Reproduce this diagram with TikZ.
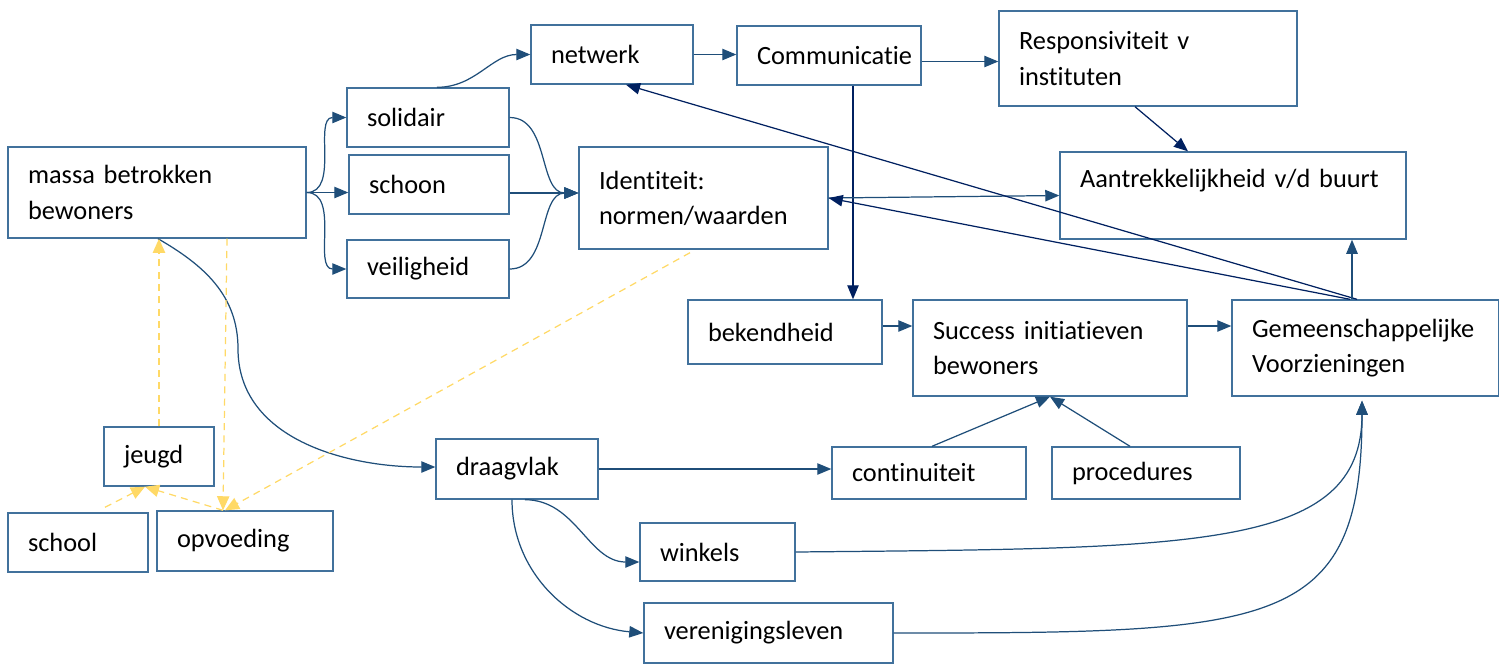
\documentclass[tikz,border=0pt]{standalone}
\usepackage{fontspec}
\setmainfont{Carlito}[Ligatures=NoCommon]
\usepackage{tikz}
\usetikzlibrary{arrows.meta,calc}
\definecolor{boxblue}{RGB}{65,113,156}
\definecolor{lineblue}{RGB}{31,78,121}
\definecolor{darknavy}{RGB}{0,32,96}
\definecolor{softyellow}{RGB}{255,217,102}
\tikzstyle{box}=[rectangle,draw=boxblue,line width=0.8pt,inner xsep=0.4cm,align=left,font=\fontsize{15}{20}\selectfont]
\tikzstyle{edge} = [draw,line width=0.7pt,lineblue,-{Triangle[length=8pt,width=6.5pt]}]
\tikzstyle{navyedge} = [edge,darknavy]
\tikzstyle{yedge} = [draw,line width=0.7pt,softyellow,dash pattern=on 4pt off 3pt,-{Triangle[length=8pt,width=7pt]}]

\begin{document}
\begin{tikzpicture}[x=0.02cm,y=0.02cm]
    \useasboundingbox (0,0) rectangle (1499,-664);
    % First we draw the boxes
    \foreach \pos/\name/\boxw/\boxh/\textw/\txt in {{(157,-192.5)/massa/5.96/1.82/5.16/{massa betrokken\\ bewoners}},
    {(428,-117.5)/solidair/3.24/1.18/2.44/solidair}, {(429,-184.5)/schoon/3.2/1.18/2.4/schoon},
    {(428,-269)/veilig/3.24/1.16/2.44/veiligheid},
    {(612,-54.5)/netwerk/3.24/1.18/2.44/netwerk}, {(829,-55.5)/comm/3.68/1.18/2.88/Communicatie},
    {(1148,-58.5)/resp/5.96/1.9/5.16/{Responsiviteit v\\ instituten}},
    {(703.5,-198)/ident/4.98/2.04/4.18/{Identiteit:\\ normen/waarden}},
    {(1233,-195.5)/aantr/6.92/1.74/6.12/{Aantrekkelijkheid v/d buurt\\ ~}},
    {(785,-332)/bekend/3.88/1.28/3.08/bekendheid}, {(1050,-348)/succes/5.48/1.92/4.68/{Success initiatieven\\ bewoners}},
    {(1365.5,-348)/gemeen/5.34/1.92/4.54/{Gemeenschappelijke\\ Voorzieningen}},
    {(159,-456.5)/jeugd/2.2/1.18/1.4/jeugd}, {(78,-542.5)/school/2.8/1.18/2.0/school},
    {(245,-541)/opvoed/3.52/1.2/2.72/opvoeding},
    {(517,-469)/draag/3.24/1.2/2.44/draagvlak}, {(929,-473)/contin/3.88/1.04/3.08/continuiteit},
    {(1146,-473)/proced/3.76/1.04/2.96/procedures},
    {(717.5,-552)/winkels/3.1/1.16/2.3/winkels}, {(768.5,-633)/veren/4.98/1.2/4.18/verenigingsleven}}
        \node[box,minimum width=\boxw cm,minimum height=\boxh cm,text width=\textw cm] (\name) at \pos {\txt};

    % Connect the boxes
    \foreach \dest in {solidair,veilig}
        \path[edge] (massa.east) to[out=0,in=180] (\dest.west);
    \path[edge] (massa.east) -- (massa.east -| schoon.west);
    \coordinate (identin) at ([yshift=0.1cm]ident.west);
    \foreach \source in {solidair,veilig}
        \path[edge] (\source.east) to[out=0,in=180] (identin);
    \path[edge] (schoon.east |- identin) -- (identin);
    \path[edge] ([xshift=0.18cm]solidair.north) to[out=0,in=180] (netwerk.west);
    \path[edge] (netwerk.east) -- (netwerk.east -| comm.west);
    \path[edge] ([yshift=-0.12cm]comm.east) -- ([yshift=-0.12cm]comm.east -| resp.west);
    \path[navyedge] ([xshift=-0.26cm]resp.south) -- ([xshift=-0.9cm]aantr.north);
    \path[navyedge] ([xshift=0.48cm]comm.south) -- ([xshift=0.48cm]comm.south |- bekend.north);
    \path[edge] (ident.east) -- (aantr.west);
    \path[navyedge] ([xshift=-0.31cm]gemeen.north) -- (ident.east);
    \path[navyedge] ([xshift=-0.17cm]gemeen.north) -- ([xshift=0.28cm]netwerk.south);
    \path[edge] ([xshift=-0.27cm]gemeen.north) -- ([xshift=-0.27cm]gemeen.north |- aantr.south);
    \path[edge] ([yshift=0.12cm]bekend.east) -- ([yshift=0.12cm]bekend.east -| succes.west);
    \path[edge] ([yshift=0.44cm]succes.east) -- ([yshift=0.44cm]succes.east -| gemeen.west);
    \path[edge] ([xshift=0.06cm]contin.north) -- (succes.south);
    \path[edge] ([xshift=-0.32cm]proced.north) -- (succes.south);
    \path[edge] ([xshift=0.02cm]massa.south) to[out=-30,in=90] ++(80,-110) to[out=-90,in=180] ([yshift=0.04cm]draag.west);
    \path[edge] (draag.east) -- (draag.east -| contin.west);
    \path[edge] ([xshift=0.16cm]draag.south) to[out=0,in=180] ([yshift=-0.2cm]winkels.west);
    \path[edge] ([xshift=-0.1cm]draag.south) to[out=-90,in=175] (veren.west);
    \coordinate (gemin) at ([xshift=-0.07cm,yshift=-0.08cm]gemeen.south);
    \path[edge] (winkels.east) .. controls +(400,4) and +(0,-150) .. (gemin);
    \path[edge] (veren.east) .. controls +(380,0) and +(0,-230) .. (gemin);

    % yellow dashed links
    \coordinate (jeugdin) at ([xshift=-0.28cm]jeugd.south);
    \path[yedge] (jeugd.north) -- (jeugd.north |- massa.south);
    \path[yedge] ([xshift=1.4cm]massa.south) -- ([xshift=-0.44cm]opvoed.north);
    \path[yedge] ([xshift=0.54cm,yshift=0.1cm]school.north) -- (jeugdin);
    \path[yedge] ([xshift=-0.44cm]opvoed.north) -- (jeugdin);
    \path[yedge] ([xshift=-0.27cm,yshift=-0.06cm]ident.south) -- ([xshift=-0.4cm]opvoed.north);
\end{tikzpicture}
\end{document}
